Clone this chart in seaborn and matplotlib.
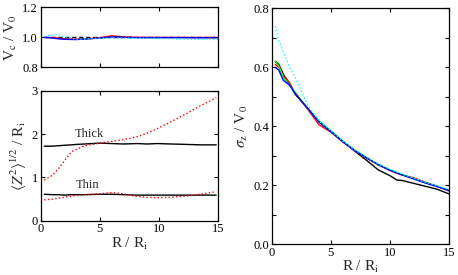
import matplotlib
matplotlib.use("Agg")
import matplotlib.pyplot as plt
import seaborn as sns
from matplotlib.ticker import MultipleLocator

# --- data ---
# rotation curve V_c / V_0
r_vc = [0.3, 1, 1.5, 2, 3, 4, 5, 6, 7, 8, 9, 10, 11, 12, 13, 14, 15]
vc_ref = [1.0] * len(r_vc)
vc_blue = [1.0, 0.995, 0.99, 0.987, 0.985, 0.99, 0.995, 1.003, 1.0, 0.998, 0.998, 0.998, 0.998, 0.998, 0.997, 0.997, 0.997]
vc_red = [1.0, 0.998, 0.995, 0.99, 0.988, 0.99, 0.997, 1.01, 1.003, 1.0, 0.999, 0.999, 0.999, 0.999, 0.999, 0.999, 0.999]
vc_cyan = [1.005, 1.015, 1.018, 1.005, 0.987, 0.99, 0.993, 0.995, 0.995, 0.994, 0.993, 0.992, 0.99, 0.988, 0.987, 0.986, 0.986]

# vertical thickness <z^2>^1/2 / R_i
r_z = [0.3, 1, 1.5, 2, 2.6, 3, 3.7, 5, 6, 7, 8.2, 9, 9.9, 11, 12.4, 13.5, 14.85]
thick_black = [1.72, 1.72, 1.73, 1.74, 1.75, 1.76, 1.77, 1.79, 1.78, 1.77, 1.78, 1.77, 1.78, 1.77, 1.76, 1.75, 1.75]
thick_red = [0.94, 1.05, 1.2, 1.38, 1.59, 1.64, 1.73, 1.79, 1.83, 1.87, 1.94, 2.02, 2.13, 2.28, 2.48, 2.65, 2.84]
thin_black = [0.61, 0.6, 0.6, 0.59, 0.6, 0.6, 0.6, 0.61, 0.61, 0.6, 0.59, 0.59, 0.59, 0.59, 0.59, 0.59, 0.59]
thin_red = [0.48, 0.5, 0.52, 0.54, 0.57, 0.58, 0.6, 0.62, 0.65, 0.62, 0.555, 0.54, 0.53, 0.54, 0.57, 0.61, 0.67]

# vertical velocity dispersion sigma_z / V_0
r_s = [0.3, 0.6, 1, 1.5, 2, 3, 4, 5, 6, 7, 8, 9, 10, 10.6, 11, 12, 13, 14, 15]
sig_main = [0.619, 0.605, 0.565, 0.54, 0.512, 0.46, 0.413, 0.383, 0.348, 0.318, 0.293, 0.27, 0.251, 0.242, 0.236, 0.222, 0.208, 0.196, 0.183]
sig_black = [0.62, 0.61, 0.575, 0.545, 0.508, 0.462, 0.415, 0.383, 0.348, 0.316, 0.285, 0.252, 0.232, 0.217, 0.216, 0.206, 0.196, 0.186, 0.17]
sig_red = [0.61, 0.6, 0.57, 0.548, 0.51, 0.46, 0.405, 0.38, 0.347, 0.318, 0.292, 0.269, 0.25, 0.24, 0.235, 0.225, 0.21, 0.196, 0.18]
sig_green = [0.62, 0.605, 0.565, 0.54, 0.515, 0.462, 0.418, 0.385, 0.35, 0.32, 0.294, 0.27, 0.252, 0.243, 0.236, 0.222, 0.208, 0.196, 0.182]
sig_blue = [0.6, 0.59, 0.555, 0.54, 0.51, 0.463, 0.414, 0.382, 0.348, 0.318, 0.293, 0.27, 0.25, 0.241, 0.235, 0.221, 0.207, 0.195, 0.181]
sig_cyan = [0.74, 0.69, 0.65, 0.6, 0.565, 0.475, 0.418, 0.385, 0.35, 0.32, 0.296, 0.272, 0.254, 0.244, 0.238, 0.224, 0.21, 0.198, 0.185]

sns.set_style("ticks")
plt.rcParams["font.family"] = ["Liberation Serif", "DejaVu Serif"]
plt.rcParams["mathtext.fontset"] = "stix"
plt.rcParams["xtick.direction"] = "in"
plt.rcParams["ytick.direction"] = "in"
plt.rcParams["xtick.top"] = True
plt.rcParams["ytick.right"] = True
plt.rcParams["font.size"] = 9

fig = plt.figure(figsize=(4.58, 2.75), dpi=100)
ax1 = fig.add_axes([0.0889, 0.7553, 0.387, 0.218])
ax2 = fig.add_axes([0.0889, 0.1975, 0.387, 0.4727])
ax3 = fig.add_axes([0.5932, 0.1127, 0.3871, 0.857])

lw = 1.0
lab = 11

# top-left: rotation curve
sns.lineplot(x=r_vc, y=vc_ref, ax=ax1, color="black", lw=lw, linestyle=(0, (3, 2)))
sns.lineplot(x=r_vc, y=vc_red, ax=ax1, color="red", lw=lw)
sns.lineplot(x=r_vc, y=vc_blue, ax=ax1, color="blue", lw=lw)
sns.lineplot(x=r_vc, y=vc_cyan, ax=ax1, color="cyan", lw=lw, linestyle=":")
ax1.set_xlim(0, 15)
ax1.set_ylim(0.8, 1.2)
ax1.yaxis.set_major_locator(MultipleLocator(0.2))
ax1.xaxis.set_major_locator(MultipleLocator(5))
ax1.set_xticklabels([])
ax1.yaxis.set_major_formatter(matplotlib.ticker.FormatStrFormatter("%.1f"))
ax1.set_ylabel(r"V$_{\rm c}$ / V$_0$", fontsize=lab, labelpad=2)

# bottom-left: thickness
sns.lineplot(x=r_z, y=thick_black, ax=ax2, color="black", lw=lw)
sns.lineplot(x=r_z, y=thin_black, ax=ax2, color="black", lw=lw)
sns.lineplot(x=r_z, y=thick_red, ax=ax2, color="red", lw=lw, linestyle=":")
sns.lineplot(x=r_z, y=thin_red, ax=ax2, color="red", lw=lw, linestyle=":")
ax2.text(4.15, 2.0, "Thick", ha="center", va="center", fontsize=9)
ax2.text(3.95, 0.82, "Thin", ha="center", va="center", fontsize=9)
ax2.set_xlim(0, 15)
ax2.set_ylim(0, 3)
ax2.xaxis.set_major_locator(MultipleLocator(5))
ax2.yaxis.set_major_locator(MultipleLocator(1))
ax2.set_xlabel(r"R / R$_{\rm i}$", fontsize=lab, labelpad=0)
ax2.set_ylabel(r"$\langle Z^2\rangle^{1/2}$ / R$_{\rm i}$", fontsize=lab, labelpad=2)

# right: velocity dispersion
sns.lineplot(x=r_s, y=sig_black, ax=ax3, color="black", lw=lw)
sns.lineplot(x=r_s, y=sig_red, ax=ax3, color="red", lw=lw)
sns.lineplot(x=r_s, y=sig_green, ax=ax3, color="lime", lw=lw)
sns.lineplot(x=r_s, y=sig_blue, ax=ax3, color="blue", lw=lw)
sns.lineplot(x=r_s, y=sig_cyan, ax=ax3, color="cyan", lw=lw, linestyle=":")
ax3.set_xlim(0, 15)
ax3.set_ylim(0, 0.8)
ax3.xaxis.set_major_locator(MultipleLocator(5))
ax3.yaxis.set_major_locator(MultipleLocator(0.2))
ax3.yaxis.set_minor_locator(MultipleLocator(0.1))
ax3.yaxis.set_major_formatter(matplotlib.ticker.FormatStrFormatter("%.1f"))
ax3.set_xlabel(r"R / R$_{\rm i}$", fontsize=lab, labelpad=0)
ax3.set_ylabel(r"$\sigma_{\rm z}$ / V$_0$", fontsize=lab, labelpad=2)

for ax in (ax1, ax2, ax3):
    for s in ax.spines.values():
        s.set_linewidth(0.9)
        s.set_color("black")
    ax.tick_params(which="both", length=3, width=0.8, colors="black", labelsize=9, pad=2)
    ax.tick_params(which="minor", length=3)

fig.savefig("out.png", dpi=100)
